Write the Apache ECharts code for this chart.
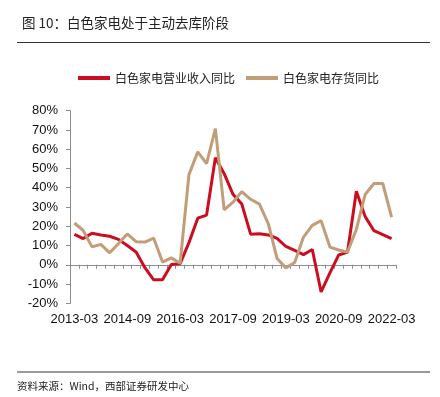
<!DOCTYPE html>
<html>
<head>
<meta charset="utf-8">
<style>
  html, body { margin: 0; padding: 0; background: #fff; }
  #chart { width: 440px; height: 397px; }
</style>
<script src="https://cdn.jsdelivr.net/npm/echarts@6/dist/echarts.min.js"></script>
</head>
<body>
<div id="chart"></div>
<script>
  // quarters 2013-03 .. 2022-03
  var categories = [
    '2013-03', '2013-06', '2013-09', '2013-12',
    '2014-03', '2014-06', '2014-09', '2014-12',
    '2015-03', '2015-06', '2015-09', '2015-12',
    '2016-03', '2016-06', '2016-09', '2016-12',
    '2017-03', '2017-06', '2017-09', '2017-12',
    '2018-03', '2018-06', '2018-09', '2018-12',
    '2019-03', '2019-06', '2019-09', '2019-12',
    '2020-03', '2020-06', '2020-09', '2020-12',
    '2021-03', '2021-06', '2021-09', '2021-12',
    '2022-03'
  ];
  var revenueNames = '白色家电营业收入同比';
  var inventoryNames = '白色家电存货同比';
  var revenueYoY = [15.8, 13.6, 16.4, 15.5, 14.8, 13.2, 10, 6.6, -1.5, -7.8,
    -7.8, 0.1, 0.6, 11.5, 24.2, 25.8, 55.6, 47.3, 36.6, 31.5,
    15.9, 16.1, 15.5, 13.7, 9.5, 7.5, 5.3, 7.9, -14.1, -4.2,
    5.1, 6.6, 38.2, 25, 17.7, 15.7, 13.6];
  var inventoryYoY = [21.7, 17.8, 9.3, 10.6, 6.2, 11, 16, 12, 11.8, 13.8,
    1.4, 3.6, 0.8, 46.8, 58.6, 52.5, 70.7, 28.5, 32.5, 38,
    34, 31.5, 21.4, 3.3, -1.6, 1.2, 14.4, 20.5, 22.9, 9.2,
    7.7, 6.6, 18.4, 36.5, 42.2, 42.2, 24.8];
  var yTicks = { min: -20, max: 80, step: 10 };

  var redColor = '#cc0d1f';
  var tanColor = '#c29e78';
  var axisColor = '#8c8c8c';
  var numFont = '"Liberation Sans", Arial, sans-serif';
  var cjkFont = '"Noto Sans CJK SC", sans-serif';

  var chart = echarts.init(document.getElementById('chart'));
  var option = {
    animation: false,
    title: {
      text: '图 10：白色家电处于主动去库阶段',
      left: 17,
      top: 11,
      textStyle: {
        fontFamily: cjkFont,
        fontSize: 13.5,
        fontWeight: 'normal',
        color: '#222'
      }
    },
    graphic: [
      {
        type: 'line',
        shape: { x1: 17, y1: 42.5, x2: 430, y2: 42.5 },
        style: { stroke: '#333', lineWidth: 1 }
      },
      {
        type: 'line',
        shape: { x1: 17, y1: 372, x2: 430, y2: 372 },
        style: { stroke: '#9a9a9a', lineWidth: 2 }
      },
      {
        type: 'text',
        left: 17,
        top: 381,
        style: {
          text: '资料来源：Wind，西部证券研发中心',
          font: '10.5px ' + cjkFont,
          fill: '#222'
        }
      }
    ],
    legend: {
      top: 67,
      left: 73,
      itemWidth: 32,
      itemHeight: 4,
      itemGap: 11,
      icon: 'rect',
      textStyle: {
        fontFamily: cjkFont,
        fontSize: 12,
        color: '#222'
      },
      data: [revenueNames, inventoryNames]
    },
    grid: {
      left: 70,
      right: 44,
      top: 110.7,
      bottom: 93.7,
      containLabel: false,
      outerBoundsMode: 'none'
    },
    xAxis: [
      {
        type: 'category',
        data: categories,
        boundaryGap: true,
        position: 'bottom',
        axisLine: { show: false, onZero: false },
        axisTick: { show: false },
        splitLine: { show: false },
        axisLabel: {
          interval: 5,
          margin: 10,
          fontFamily: numFont,
          fontSize: 13,
          color: '#111'
        }
      },
      {
        type: 'category',
        data: categories,
        boundaryGap: true,
        position: 'bottom',
        axisLine: { show: true, onZero: true, lineStyle: { color: axisColor, width: 1 } },
        axisTick: { show: true, interval: 0, length: 4, lineStyle: { color: axisColor } },
        axisLabel: { show: false },
        splitLine: { show: false }
      }
    ],
    yAxis: {
      type: 'value',
      min: yTicks.min,
      max: yTicks.max,
      interval: yTicks.step,
      axisLine: { show: true, lineStyle: { color: axisColor, width: 1 } },
      axisTick: { show: true, length: 4, lineStyle: { color: axisColor } },
      splitLine: { show: false },
      axisLabel: {
        margin: 12,
        formatter: '{value}%',
        fontFamily: numFont,
        fontSize: 13,
        color: '#111'
      }
    },
    series: [
      {
        name: revenueNames,
        type: 'line',
        data: revenueYoY,
        symbol: 'none',
        color: redColor,
        lineStyle: { width: 3, color: redColor }
      },
      {
        name: inventoryNames,
        type: 'line',
        data: inventoryYoY,
        symbol: 'none',
        color: tanColor,
        lineStyle: { width: 3, color: tanColor }
      }
    ]
  };
  chart.setOption(option);
</script>
</body>
</html>
